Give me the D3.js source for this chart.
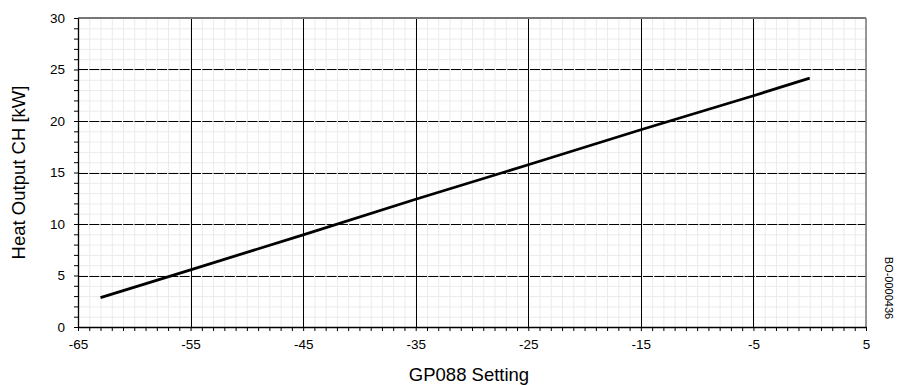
<!DOCTYPE html>
<html>
<head>
<meta charset="utf-8">
<script src="https://cdn.jsdelivr.net/npm/d3@7"></script>
<style>
	body { margin: 0; background: #fff; }
	text { font-family: "Liberation Sans", Arial, sans-serif; fill: #000; }
</style>
</head>
<body>
<svg id="svg_main" width="902" height="385"></svg>
<script>
// data
var settings = [-63, -55, -45, -35, -25, -15, -5, 0];
var heatOutput = [2.85, 5.55, 8.95, 12.4, 15.75, 19.15, 22.45, 24.17];
var xTicks = [-65, -55, -45, -35, -25, -15, -5, 5];
var yTicks = [0, 5, 10, 15, 20, 25, 30];
var xLabel = "GP088 Setting",
	yLabel = "Heat Output CH [kW]",
	docCode = "BO-0000436";

var margin = { top: 18, left: 78, right: 36, bottom: 58 };
var svg = d3.select("#svg_main");
var width = 902 - margin.left - margin.right,
	height = 385 - margin.top - margin.bottom;

var x = d3.scaleLinear().domain([-65, 5]).range([0, width]),
	y = d3.scaleLinear().domain([0, 30]).range([height, 0]);

var g = svg.append("g")
	.attr("transform", `translate(${margin.left}, ${margin.top})`);

// minor grid, every unit
var minorX = d3.range(-65, 6, 1),
	minorY = d3.range(0, 31, 1);
g.append("g").selectAll("line")
	.data(minorX).enter().append("line")
	.attr("x1", d => x(d) + 0.5).attr("x2", d => x(d) + 0.5)
	.attr("y1", 0).attr("y2", height)
	.attr("stroke", "#ebebeb").attr("stroke-width", 1);
g.append("g").selectAll("line")
	.data(minorY).enter().append("line")
	.attr("y1", d => y(d) + 0.5).attr("y2", d => y(d) + 0.5)
	.attr("x1", 0).attr("x2", width)
	.attr("stroke", "#ebebeb").attr("stroke-width", 1);

// major grid
g.append("g").selectAll("line")
	.data(xTicks.slice(1, -1)).enter().append("line")
	.attr("x1", d => Math.round(x(d)) + 0.5).attr("x2", d => Math.round(x(d)) + 0.5)
	.attr("y1", 0).attr("y2", height)
	.attr("stroke", "#000").attr("stroke-width", 1);
g.append("g").selectAll("line")
	.data(yTicks.slice(1, -1)).enter().append("line")
	.attr("y1", d => Math.round(y(d)) + 0.5).attr("y2", d => Math.round(y(d)) + 0.5)
	.attr("x1", 0).attr("x2", width)
	.attr("stroke", "#000").attr("stroke-width", 1)
	.attr("stroke-dasharray", "10,1.3");

// frame: top and right grey
g.append("line")
	.attr("x1", 0).attr("x2", width).attr("y1", 0).attr("y2", 0)
	.attr("stroke", "#777").attr("stroke-width", 2);
g.append("line")
	.attr("x1", width).attr("x2", width).attr("y1", 0).attr("y2", height)
	.attr("stroke", "#777").attr("stroke-width", 1.5);

// axes
var xAxis = d3.axisBottom(x).tickValues(minorX).tickSize(4).tickSizeOuter(0)
		.tickFormat(d => xTicks.includes(d) ? d : ""),
	yAxis = d3.axisLeft(y).tickValues(minorY).tickSize(4).tickSizeOuter(0)
		.tickFormat(d => yTicks.includes(d) ? d : "");

var xg = g.append("g")
	.attr("transform", `translate(0, ${height})`)
	.call(xAxis);
var yg = g.append("g")
	.call(yAxis);

[xg, yg].forEach(a => {
	a.select(".domain").attr("stroke", "#000").attr("stroke-width", 1.3);
	a.selectAll(".tick line").attr("stroke", "#000");
	a.selectAll(".tick text")
		.style("font-size", "13.5px")
		.style("font-family", "'Liberation Sans', Arial, sans-serif")
		.attr("fill", "#000");
});
xg.selectAll(".tick text").attr("y", 12.5);
yg.selectAll(".tick text").attr("x", -13);

// the curve
var pts = settings.map((s, i) => [s, heatOutput[i]]);
g.append("path")
	.datum(pts)
	.attr("fill", "none")
	.attr("stroke", "#000")
	.attr("stroke-width", 2.8)
	.attr("d", d3.line().x(d => x(d[0])).y(d => y(d[1])));

// labels
svg.append("text")
	.attr("x", margin.left + width / 2 - 3)
	.attr("y", 381)
	.attr("text-anchor", "middle")
	.attr("font-size", "18.5px")
	.text(xLabel);
svg.append("text")
	.attr("transform", `translate(25, ${margin.top + height / 2}) rotate(-90)`)
	.attr("text-anchor", "middle")
	.attr("font-size", "18.5px")
	.text(yLabel);
svg.append("text")
	.attr("transform", "translate(885, 288) rotate(90)")
	.attr("text-anchor", "middle")
	.attr("font-size", "11px")
	.text(docCode);
</script>
</body>
</html>
